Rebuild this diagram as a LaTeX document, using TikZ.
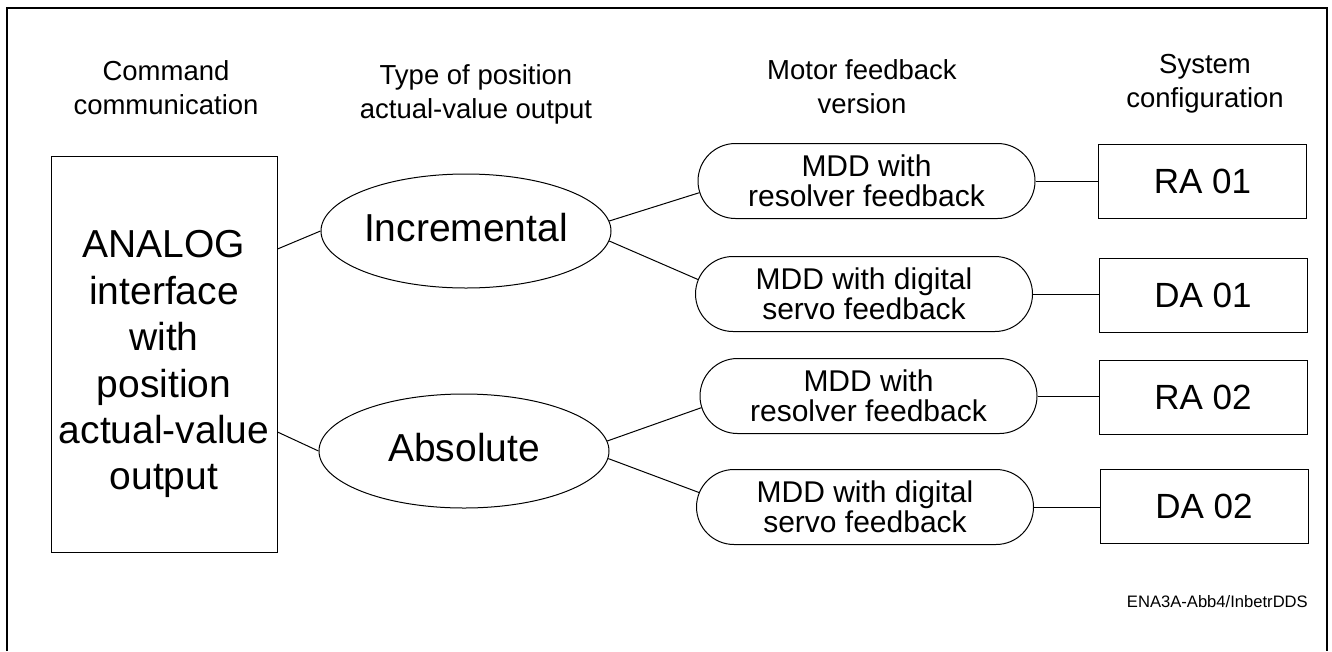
\documentclass[tikz,border=0pt]{standalone}
\usepackage{fontspec}
\setmainfont{Liberation Sans}
\usetikzlibrary{shapes.geometric,shapes.misc}

\begin{document}
\begin{tikzpicture}[x=1pt,y=-1pt,
    head/.style={align=center,inner sep=0,font=\fontsize{27.5}{34}\selectfont},
    oval/.style={draw,ellipse,line width=1pt,inner sep=0,minimum width=290,minimum height=114,text depth=8pt,font=\fontsize{39}{46}\selectfont},
    motor/.style={draw,rounded rectangle,line width=1pt,inner sep=0,minimum width=337,minimum height=75,align=center,font=\fontsize{30}{29.5}\selectfont},
    config/.style={draw,rectangle,line width=1pt,inner sep=0,minimum width=208,minimum height=74,font=\fontsize{35}{35}\selectfont}]
\useasboundingbox (0,0) rectangle (1332,651);
\draw[line width=2.5pt](7,651)--(7,8)--(1327,8)--(1327,651);
% column titles
\node[head] (hcmd) at (166,88) {Command\\communication};
\node[head] (htype) at (476,94) {Type of position\\actual-value output};
\node[head] (hmot) at (862,87) {Motor feedback\\version};
\node[head] (hsys) at (1205,84) {System\\configuration};
% interface
\node[draw,line width=1pt,inner sep=0,minimum width=226,minimum height=396,align=center,font=\fontsize{39}{46.4}\selectfont] (analog) at (164,354) {\rule{0pt}{48pt}ANALOG\\interface\\with\\position\\actual-value\\output};
\node[oval] (incr) at (466,231) {Incremental};
\node[oval] (abs) at (464,451) {Absolute};
\node[motor] (mddA) at (866.5,181) {MDD with\\resolver feedback};
\node[motor] (mddB) at (864,294) {MDD with digital\\servo feedback};
\node[motor] (mddC) at (868.5,396) {MDD with\\resolver feedback};
\node[motor] (mddD) at (865,507) {MDD with digital\\servo feedback};
\node[config] (raA) at (1202.5,181) {RA 01};
\node[config] (daA) at (1203,295) {DA 01};
\node[config] (raB) at (1203,397) {RA 02};
\node[config] (daB) at (1204,506.5) {DA 02};
\node[anchor=base east,inner sep=0,font=\fontsize{16.6}{20}\selectfont] (tag) at (1308,607) {ENA3A-Abb4/InbetrDDS};
% links
\draw[line width=1pt]([yshift=105pt]analog.east)--(incr.west);
\draw[line width=1pt]([yshift=-78pt]analog.east)--(abs.west);
\draw[line width=1pt](incr.4.4)--(mddA.184);
\draw[line width=1pt](incr.-4)--(mddB.175);
\draw[line width=1pt](abs.4.4)--(mddC.184);
\draw[line width=1pt](abs.-3)--(mddD.175);
\draw[line width=1pt](mddA.east)--(mddA.east-|raA.west);
\draw[line width=1pt](mddB.east)--(mddB.east-|daA.west);
\draw[line width=1pt](mddC.east)--(mddC.east-|raB.west);
\draw[line width=1pt](mddD.east)--(mddD.east-|daB.west);
\end{tikzpicture}
\end{document}
